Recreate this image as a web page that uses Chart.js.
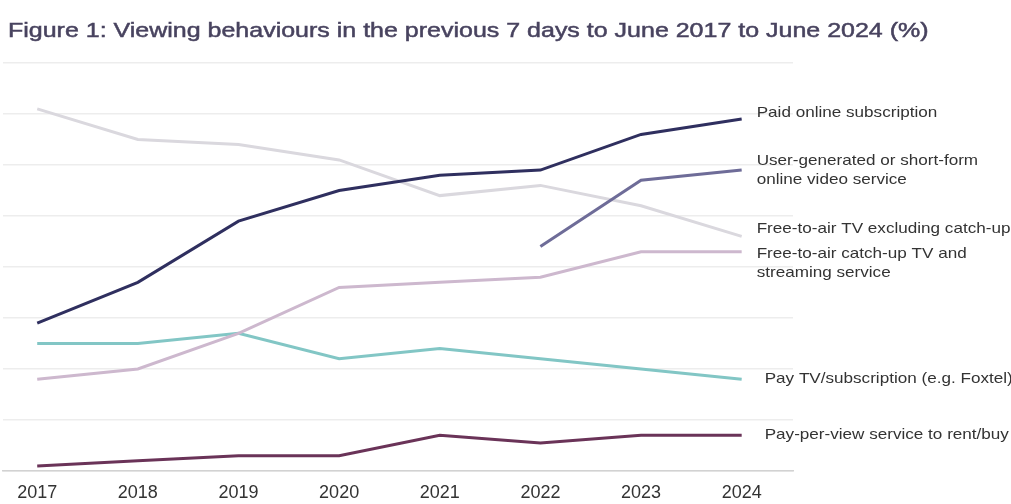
<!DOCTYPE html>
<html>
<head>
<meta charset="utf-8">
<script src="https://cdn.jsdelivr.net/npm/chart.js@4"></script>
<style>
    html, body { margin: 0; padding: 0; background: #fff; }
    #wrap { position: relative; width: 1011px; height: 504px; }
    #title {
        position: absolute; left: 8px; top: 18px;
        font-family: "Liberation Sans", Arial, sans-serif;
        font-size: 21px; color: #48435f; white-space: nowrap;
        -webkit-text-stroke: 0.5px #48435f;
        transform: scaleX(1.19); transform-origin: left top;
    }
    #chart { position: absolute; left: 0; top: 0; }
</style>
</head>
<body>
<div id="wrap">
    <canvas id="chart" width="1011" height="504"></canvas>
    <div id="title">Figure 1: Viewing behaviours in the previous 7 days to June 2017 to June 2024 (%)</div>
</div>
<script>
    const years = [2017, 2018, 2019, 2020, 2021, 2022, 2023, 2024];

    const paidOnline     = [29, 37, 49, 55, 58, 59, 66, 69];
    const userGenerated  = [null, null, null, null, null, 44, 57, 59];
    const ftaExclCatchup = [71, 65, 64, 61, 54, 56, 52, 46];
    const ftaCatchup     = [18, 20, 27, 36, 37, 38, 43, 43];
    const payTv          = [25, 25, 27, 22, 24, 22, 20, 18];
    const payPerView     = [1, 2, 3, 3, 7, 5.5, 7, 7];

    const yTicks = [0, 10, 20, 30, 40, 50, 60, 70, 80];

    // name, values, colour, label lines and where the end label sits
    const series = [
        { label: ['Paid online subscription'], data: paidOnline, color: '#2f2f5f', dx: 15, dy: -6 },
        { label: ['User-generated or short-form', 'online video service'], data: userGenerated, color: '#6e6c98', dx: 15, dy: -9 },
        { label: ['Free-to-air TV excluding catch-up'], data: ftaExclCatchup, color: '#dad8de', dx: 15, dy: -8 },
        { label: ['Free-to-air catch-up TV and', 'streaming service'], data: ftaCatchup, color: '#cdb8ce', dx: 15, dy: 2 },
        { label: ['Pay TV/subscription (e.g. Foxtel)'], data: payTv, color: '#82c6c5', dx: 23, dy: 0 },
        { label: ['Pay-per-view service to rent/buy'], data: payPerView, color: '#6a3358', dx: 23, dy: 0 }
    ];

    // text at the end of each line, slightly widened like the rest of the figure
    const endLabels = {
        id: 'endLabels',
        afterDatasetsDraw(chart) {
            const ctx = chart.ctx;
            chart.data.datasets.forEach((ds, i) => {
                const pts = chart.getDatasetMeta(i).data;
                const last = pts[pts.length - 1];
                const s = series[i];
                s.label.forEach((line, k) => {
                    ctx.save();
                    ctx.font = '15px "Liberation Sans", Arial, sans-serif';
                    ctx.fillStyle = '#333333';
                    ctx.textBaseline = 'middle';
                    ctx.translate(last.x + s.dx, last.y + s.dy + k * 19);
                    ctx.scale(1.14, 1);
                    ctx.fillText(line, 0, 0);
                    ctx.restore();
                });
            });
        }
    };

    new Chart(document.getElementById('chart'), {
        type: 'line',
        data: {
            datasets: series.map(s => ({
                label: s.label.join(' '),
                data: s.data.map((v, i) => ({ x: years[i], y: v })),
                borderColor: s.color,
                backgroundColor: s.color,
                borderWidth: 3,
                pointRadius: 0,
                tension: 0,
                spanGaps: false
            }))
        },
        options: {
            responsive: false,
            animation: false,
            layout: { padding: { top: 63, left: 3, right: 218, bottom: 0 } },
            plugins: { legend: { display: false }, tooltip: { enabled: false } },
            scales: {
                x: {
                    type: 'linear',
                    min: 2016.66,
                    max: 2024.51,
                    afterBuildTicks: s => { s.ticks = years.map(v => ({ value: v })); },
                    afterFit: s => { s.height = 33; },
                    grid: { display: false, drawTicks: false },
                    border: { display: true, color: '#d2d2d2', width: 1.5, dash: [2, 2] },
                    ticks: {
                        padding: 11,
                        color: '#333333',
                        font: { family: '"Liberation Sans", Arial, sans-serif', size: 18 },
                        callback: v => String(v)
                    }
                },
                y: {
                    display: true,
                    min: 0,
                    max: 80,
                    afterBuildTicks: s => { s.ticks = yTicks.map(v => ({ value: v })); },
                    afterFit: s => { s.width = 0; },
                    grid: { color: '#ededed', lineWidth: 1.5, drawTicks: false },
                    border: { display: false },
                    ticks: { display: false }
                }
            }
        },
        plugins: [endLabels]
    });
</script>
</body>
</html>
